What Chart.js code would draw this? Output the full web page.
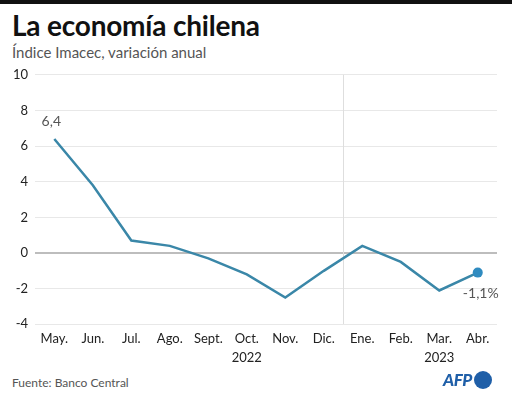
<!DOCTYPE html>
<html>
<head>
<meta charset="utf-8">
<script src="https://cdn.jsdelivr.net/npm/chart.js@4"></script>
<style>
  html, body { margin: 0; padding: 0; background: #fff; }
  body { width: 512px; height: 397px; position: relative; overflow: hidden; font-family: Lato, sans-serif; }
  .topbar { position: absolute; left: 0; top: 0; width: 512px; height: 4px; background: #111; }
  .title { position: absolute; left: 12px; top: 8px; font-size: 28px; font-weight: 700; color: #111; letter-spacing: -0.2px; }
  .subtitle { position: absolute; left: 12px; top: 43px; font-size: 15px; color: #555; }
  .source { position: absolute; left: 12px; top: 375px; font-size: 12px; color: #555; }
  .logo { position: absolute; left: 443px; top: 369px; width: 70px; white-space: nowrap; font-size: 17px; font-weight: 900; font-style: italic; color: #1f5fa8; letter-spacing: -0.5px; }
  .logo span { display: inline-block; width: 18px; height: 18px; border-radius: 50%; background: #1f5fa8; vertical-align: -3px; margin-left: 2px; }
  #wrap { position: absolute; left: 0; top: 60px; width: 512px; height: 312px; }
</style>
</head>
<body>
<div class="topbar"></div>
<div class="title">La economía chilena</div>
<div class="subtitle">Índice Imacec, variación anual</div>
<div id="wrap"><canvas id="chart"></canvas></div>
<div class="source">Fuente: Banco Central</div>
<div class="logo">AFP<span></span></div>
<script>
// ===== Data =====
const months = ['May.', 'Jun.', 'Jul.', 'Ago.', 'Sept.', 'Oct.', 'Nov.', 'Dic.', 'Ene.', 'Feb.', 'Mar.', 'Abr.'];
const years = ['', '', '', '', '', '2022', '', '', '', '', '2023', ''];
const imacec = [6.4, 3.8, 0.7, 0.4, -0.3, -1.2, -2.5, -1.0, 0.4, -0.5, -2.1, -1.1];
const yTicks = [-4, -2, 0, 2, 4, 6, 8, 10];
const yearStartIndex = 8; // Ene. 2023

const lineColor = '#3a87a8';

// labels like "6,4" / "-1,1%" drawn next to first and last point
const valueLabels = {
    id: 'valueLabels',
    afterDatasetsDraw(chart) {
        const ctx = chart.ctx;
        const pts = chart.getDatasetMeta(0).data;
        const first = pts[0];
        const last = pts[pts.length - 1];
        ctx.save();
        ctx.font = '14px Lato, sans-serif';
        ctx.fillStyle = '#555';
        ctx.textAlign = 'center';
        ctx.textBaseline = 'middle';
        ctx.fillText(String(imacec[0]).replace('.', ','), first.x - 3, first.y - 17);
        ctx.fillText(String(imacec[imacec.length - 1]).replace('.', ',') + '%', last.x + 3, last.y + 21);
        ctx.restore();
    }
};

const ctx = document.getElementById('chart').getContext('2d');
new Chart(ctx, {
    type: 'line',
    data: {
        labels: months.map((m, i) => years[i] ? [m, years[i]] : m),
        datasets: [{
            data: imacec,
            borderColor: lineColor,
            borderWidth: 2.5,
            tension: 0,
            pointRadius: imacec.map((v, i) => i === imacec.length - 1 ? 5 : 0),
            pointBackgroundColor: '#2f8bc0',
            pointBorderWidth: 0
        }]
    },
    options: {
        responsive: true,
        maintainAspectRatio: false,
        animation: false,
        layout: { padding: { left: 6, right: 15, top: 6, bottom: 0 } },
        plugins: {
            legend: { display: false },
            tooltip: { enabled: false }
        },
        scales: {
            y: {
                min: -4,
                max: 10,
                afterBuildTicks: axis => { axis.ticks = yTicks.map(v => ({ value: v })); },
                border: { display: false },
                grid: {
                    color: c => c.tick && c.tick.value === 0 ? '#bdbdbd' : '#e8e8e8',
                    lineWidth: c => c.tick && c.tick.value === 0 ? 2 : 1,
                    drawTicks: false
                },
                ticks: {
                    color: '#222',
                    font: { family: 'Lato, sans-serif', size: 13 },
                    padding: 7
                }
            },
            x: {
                offset: true,
                border: { display: false },
                grid: {
                    offset: true,
                    drawTicks: false,
                    color: c => c.index === yearStartIndex ? '#dedede' : 'transparent'
                },
                ticks: {
                    color: '#222',
                    font: { family: 'Lato, sans-serif', size: 13, lineHeight: 1.45 },
                    padding: 5,
                    maxRotation: 0,
                    autoSkip: false
                }
            }
        }
    },
    plugins: [valueLabels]
});
</script>
</body>
</html>
